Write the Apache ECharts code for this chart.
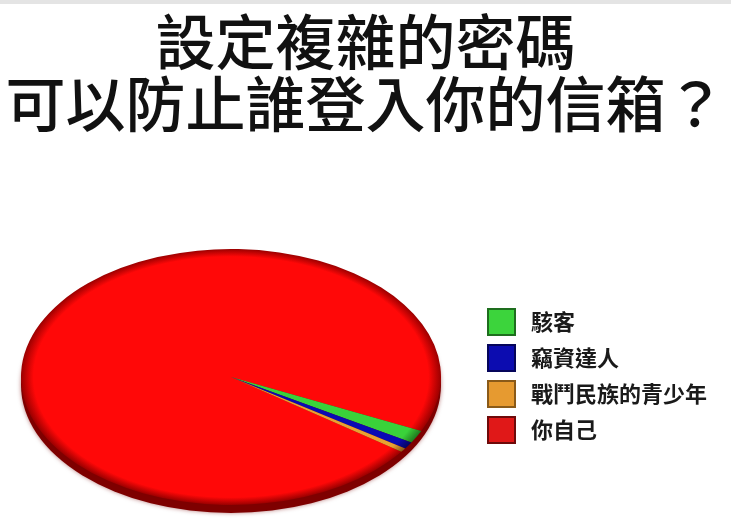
<!DOCTYPE html>
<html><head><meta charset="utf-8">
<script src="https://cdn.jsdelivr.net/npm/echarts@6/dist/echarts.min.js"></script>
<style>html,body{margin:0;padding:0;background:#fff}#c{width:731px;height:522px}</style>
</head><body><div id="c"></div>
<script>
const titleLine1 = '設定複雜的密碼';
const titleLine2 = '可以防止誰登入你的信箱？';
const categories = ['駭客', '竊資達人', '戰鬥民族的青少年', '你自己'];
const values = [1.6, 0.9, 0.5, 97.0];
const colors = ['#3ad23a', '#0a0ab4', '#e8a132', '#ff0808'];
const edgeColors = ['#1f7a1f', '#050560', '#8a5a18', '#9a0000'];
const legendColors = ['#3cd43c', '#0c0cb0', '#e69a30', '#e01818'];
const legendBorders = ['#1e6e1e', '#05055a', '#8a5a18', '#6e0a0a'];

const chart = echarts.init(document.getElementById('c'), null, { renderer: 'canvas' });
const total = values.reduce((a, b) => a + b, 0);
const START = 25; // degrees, clockwise from 3 o'clock
const PIE = { cx: 231, cy: 377, rx: 210, ry: 128 };

function renderSlice(params, api) {
  const i = params.seriesIndex;
  let before = 0;
  for (let k = 0; k < i; k++) before += values[k];
  const v = api.value(0);
  const a0 = (START + before / total * 360) * Math.PI / 180;
  const a1 = (START + (before + v) / total * 360) * Math.PI / 180;
  const R = PIE.rx;
  const sy = PIE.ry / PIE.rx;
  const children = [];
  if (i === values.length - 1) {
    children.push({
      type: 'circle',
      shape: { cx: 0, cy: 8 / sy, r: R },
      style: { fill: '#7e0000', shadowBlur: 4, shadowColor: 'rgba(120,0,0,0.5)' }
    });
  }
  children.push({
    type: 'sector',
    shape: { cx: 0, cy: 0, r: R, r0: 0, startAngle: a0, endAngle: a1, clockwise: true },
    style: {
      fill: {
        type: 'radial', x: 0, y: 0, r: R, global: true,
        colorStops: [
          { offset: 0, color: colors[i] },
          { offset: 0.94, color: colors[i] },
          { offset: 1, color: edgeColors[i] }
        ]
      }
    }
  });
  return { type: 'group', x: PIE.cx, y: PIE.cy, scaleY: sy, children: children };
}

const series = categories.map((name, i) => ({
  type: 'custom',
  name: name,
  coordinateSystem: 'none',
  z: i === categories.length - 1 ? 1 : 2,
  itemStyle: { color: legendColors[i] },
  renderItem: renderSlice,
  data: [values[i]]
}));

chart.setOption({
  animation: false,
  backgroundColor: '#ffffff',
  title: {
    text: titleLine1,
    subtext: titleLine2,
    left: 'center',
    top: 12,
    padding: 0,
    itemGap: 2,
    textStyle: { fontSize: 60, color: '#111', fontWeight: 500, fontFamily: 'Noto Sans CJK TC' },
    subtextStyle: { fontSize: 60, color: '#111', fontWeight: 500, fontFamily: 'Noto Sans CJK TC' }
  },
  graphic: [{
    type: 'rect', left: 0, top: 0, shape: { width: 731, height: 4 }, style: { fill: '#e4e4e4' }, silent: true
  }],
  legend: {
    orient: 'vertical',
    left: 487,
    top: 308,
    padding: 0,
    icon: 'rect',
    itemWidth: 27,
    itemHeight: 26,
    itemGap: 8,
    selectedMode: false,
    data: categories.map((n, i) => ({
      name: n,
      itemStyle: { color: legendColors[i], borderColor: legendBorders[i], borderWidth: 2 }
    })),
    textStyle: { fontSize: 22, color: '#1a1a1a', fontWeight: 'bold', fontFamily: 'Noto Sans CJK TC', padding: [0, 0, 0, 11] }
  },
  series: series
});
</script></body></html>
